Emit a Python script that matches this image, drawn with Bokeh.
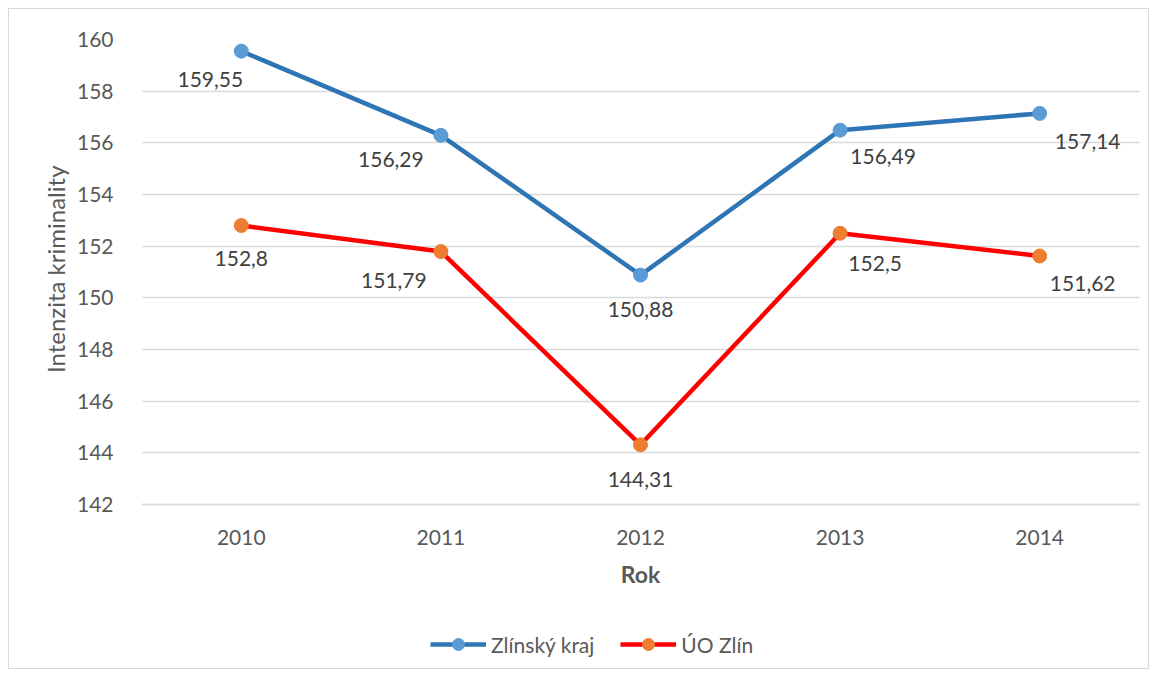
from bokeh.plotting import figure
from bokeh.models import Range1d, Legend, LegendItem, FixedTicker, ColumnDataSource, Title
from bokeh.core.properties import value
from bokeh.embed import file_html
from bokeh.resources import INLINE

years = ["2010", "2011", "2012", "2013", "2014"]
zlinsky_kraj = [159.55, 156.29, 150.88, 156.49, 157.14]
uo_zlin = [152.8, 151.79, 144.31, 152.5, 151.62]
zlinsky_labels = ["159,55", "156,29", "150,88", "156,49", "157,14"]
uo_labels = ["152,8", "151,79", "144,31", "152,5", "151,62"]
y_ticks = [142, 144, 146, 148, 150, 152, 154, 156, 158, 160]

FONT = "Lato"
GREY = "#595959"

# layout: the axis area (142..160) is 465 px tall; the frame is extended
# downward to hold the x-axis labels and the legend
Y_MIN, Y_MAX = 142, 160
AXIS_PX = 465
FRAME_PX = 629
y_start = Y_MAX - (Y_MAX - Y_MIN) * FRAME_PX / AXIS_PX

p = figure(x_range=years, y_range=Range1d(y_start, Y_MAX),
           frame_width=998, frame_height=FRAME_PX,
           min_border_left=132, min_border_right=9, min_border_top=30, min_border_bottom=0,
           output_backend="svg", toolbar_location=None)
p.styles = {"border": "1px solid #d9d9d9", "margin-left": "8px", "margin-top": "8px"}
p.outline_line_color = None
p.background_fill_color = "white"

# grid
p.xgrid.grid_line_color = None
p.ygrid.grid_line_color = "#d9d9d9"
p.ygrid.grid_line_width = 1.3
p.yaxis.ticker = FixedTicker(ticks=y_ticks)

for ax in (p.xaxis[0], p.yaxis[0]):
    ax.major_tick_line_color = None
    ax.minor_tick_line_color = None
    ax.major_label_text_font = FONT
    ax.major_label_text_font_size = "21px"
    ax.major_label_text_color = GREY
    ax.axis_label_text_font = FONT
    ax.axis_label_text_color = GREY
    ax.axis_label_text_font_style = "normal"

p.yaxis.axis_line_color = None
p.yaxis.bounds = (Y_MIN, Y_MAX)
p.yaxis.major_label_standoff = 22

ytitle = Title(text="Intenzita kriminality", align="right", offset=126, standoff=8,
               text_font=FONT, text_font_size="24px", text_font_style="normal",
               text_color=GREY)
p.add_layout(ytitle, "left")

p.xaxis.fixed_location = Y_MIN
p.xaxis.axis_line_color = "#d9d9d9"
p.xaxis.axis_line_width = 1.3
p.xaxis.major_label_standoff = 19
p.xaxis.axis_label = "Rok"
p.xaxis.axis_label_text_font_size = "23px"
p.xaxis.axis_label_text_font_style = "bold"
p.xaxis.axis_label_standoff = 12

src1 = ColumnDataSource(dict(x=years, y=zlinsky_kraj, t=zlinsky_labels,
                             dx=[-31, -50, 0, 43, 48], dy=[28, 24, 34, 26, 28]))
src2 = ColumnDataSource(dict(x=years, y=uo_zlin, t=uo_labels,
                             dx=[0, -47, 0, 35, 43], dy=[33, 29, 35, 30, 28]))

l1 = p.line("x", "y", source=src1, line_color="#2e75b6", line_width=4.5)
s1 = p.scatter("x", "y", source=src1, size=14, fill_color="#5b9bd5", line_color="#5b9bd5")
l2 = p.line("x", "y", source=src2, line_color="#ff0000", line_width=4.5)
s2 = p.scatter("x", "y", source=src2, size=14, fill_color="#ed7d31", line_color="#ed7d31")

for src in (src1, src2):
    p.text("x", "y", text="t", source=src, x_offset="dx", y_offset="dy",
           text_align="center", text_baseline="middle",
           text_font=value(FONT), text_font_size="21px", text_color="#404040")

legend = Legend(items=[LegendItem(label="Zlínský kraj", renderers=[l1, s1]),
                       LegendItem(label="ÚO Zlín", renderers=[l2, s2])],
                orientation="horizontal", location=(289, 9),
                label_text_font=FONT, label_text_font_size="21px", label_text_color=GREY,
                glyph_width=56, glyph_height=30, spacing=26, label_standoff=5,
                border_line_color=None, background_fill_alpha=0,
                margin=0, padding=0)
p.add_layout(legend, "center")

open("out.html", "w").write(file_html(p, INLINE))
